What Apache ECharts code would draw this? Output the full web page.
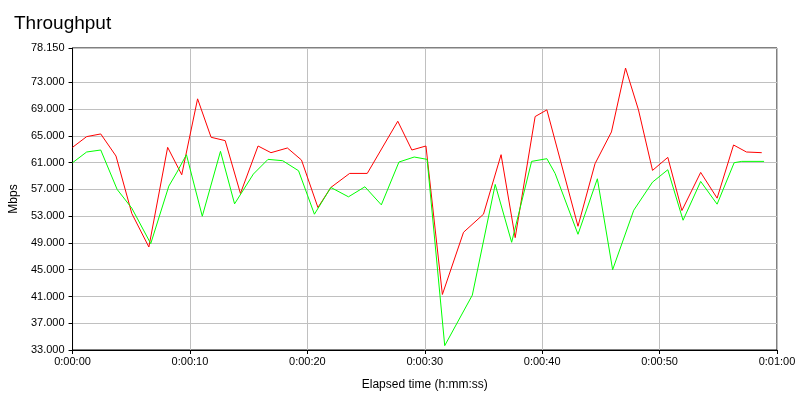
<!DOCTYPE html>
<html>
<head>
<meta charset="utf-8">
<script src="https://cdn.jsdelivr.net/npm/echarts@6/dist/echarts.min.js"></script>
<style>
html,body{margin:0;padding:0;background:#fff;}
#chart{width:800px;height:400px;}
</style>
</head>
<body>
<div id="chart"></div>
<script>
// Elapsed time (s) and throughput (Mbps) for each series
var redTimes = [0, 1.2, 2.4, 3.7, 5.05, 6.5, 8.1, 9.3, 10.65, 11.8, 13.0, 14.3, 15.8, 16.9, 18.3, 19.5, 20.9, 22.0, 23.6, 25.1, 27.7, 28.9, 30.1, 31.5, 33.3, 35.0, 36.5, 37.7, 39.4, 40.4, 43.05, 44.5, 45.9, 47.1, 48.2, 49.4, 50.7, 51.9, 53.5, 54.9, 56.3, 57.4, 58.7];
var redValues = [63.3, 64.9, 65.3, 62.0, 53.4, 48.4, 63.3, 59.2, 70.55, 64.8, 64.3, 56.4, 63.5, 62.5, 63.2, 61.4, 54.3, 57.3, 59.4, 59.4, 67.2, 62.9, 63.5, 41.3, 50.6, 53.3, 62.2, 49.8, 67.9, 68.9, 51.5, 60.85, 65.6, 75.15, 68.9, 59.85, 61.8, 53.85, 59.55, 55.7, 63.65, 62.6, 62.5];
var greenTimes = [0, 1.2, 2.4, 3.8, 5.05, 6.66, 8.2, 8.9, 9.7, 11.05, 12.6, 13.8, 15.4, 16.65, 17.9, 19.25, 20.6, 22.0, 23.5, 24.9, 26.3, 27.8, 29.1, 30.2, 31.7, 34.05, 36.0, 37.4, 39.1, 40.4, 41.1, 43.05, 44.7, 46.0, 47.8, 49.4, 50.7, 52.0, 53.5, 54.9, 56.35, 57.0, 58.9];
var greenValues = [61.0, 62.6, 62.9, 57.0, 54.2, 48.9, 57.5, 59.6, 62.2, 53.0, 62.7, 54.85, 59.3, 61.5, 61.3, 59.8, 53.3, 57.3, 55.9, 57.4, 54.7, 61.1, 61.85, 61.5, 33.65, 41.2, 57.75, 49.1, 61.2, 61.6, 59.4, 50.3, 58.6, 45.0, 53.9, 58.1, 59.95, 52.4, 58.2, 54.8, 61.0, 61.2, 61.2];
var yTicks = [33, 37, 41, 45, 49, 53, 57, 61, 65, 69, 73, 78.15];
var xTicks = [0, 10, 20, 30, 40, 50, 60];

function pairs(ts, vs) { return ts.map(function (t, i) { return [t, vs[i]]; }); }
function fmtTime(s) {
  var h = Math.floor(s / 3600), m = Math.floor((s % 3600) / 60), sec = Math.round(s % 60);
  return h + ':' + (m < 10 ? '0' : '') + m + ':' + (sec < 10 ? '0' : '') + sec;
}
var font = 'Liberation Sans';
var chart = echarts.init(document.getElementById('chart'), null, {renderer: 'canvas'});
chart.setOption({
  animation: false,
  backgroundColor: '#fff',
  title: {
    text: 'Throughput', left: 9, top: 9,
    textStyle: {fontFamily: font, fontSize: 19, fontWeight: 'normal', color: '#000'}
  },
  grid: {left: 70, right: 23, top: 48, bottom: 50, show: true, borderColor: '#000', borderWidth: 1, backgroundColor: '#fff', containLabel: false},
  xAxis: {
    type: 'value', min: 0, max: 60, interval: 10,
    name: 'Elapsed time (h:mm:ss)', nameLocation: 'middle', nameGap: 29,
    nameTextStyle: {fontFamily: font, fontSize: 12, color: '#000'},
    axisLine: {show: true, lineStyle: {color: '#000', width: 1}},
    axisTick: {show: true, length: 4, lineStyle: {color: '#000'}, customValues: xTicks},
    axisLabel: {fontFamily: font, fontSize: 11, color: '#000', margin: 6, formatter: function (v) { return fmtTime(v); }, customValues: xTicks},
    splitLine: {show: true, lineStyle: {color: '#c0c0c0', width: 1}}
  },
  yAxis: {
    type: 'value', min: 33, max: 78.15,
    name: 'Mbps', nameLocation: 'middle', nameGap: 47, nameRotate: 90,
    nameTextStyle: {fontFamily: font, fontSize: 12, color: '#000'},
    axisLine: {show: true, lineStyle: {color: '#000', width: 1}},
    axisTick: {show: true, length: 4, lineStyle: {color: '#000'}, customValues: yTicks},
    axisLabel: {fontFamily: font, fontSize: 11, color: '#000', margin: 8, formatter: function (v) { return v.toFixed(3); }, customValues: yTicks},
    splitLine: {show: true, lineStyle: {color: '#c0c0c0', width: 1}}
  },
  series: [
    {type: 'line', data: pairs(redTimes, redValues), symbol: 'none', lineStyle: {color: '#ff0000', width: 1}, itemStyle: {color: '#ff0000'}},
    {type: 'line', data: pairs(greenTimes, greenValues), symbol: 'none', lineStyle: {color: '#00ff00', width: 1}, itemStyle: {color: '#00ff00'}}
  ]
});
</script>
</body>
</html>
